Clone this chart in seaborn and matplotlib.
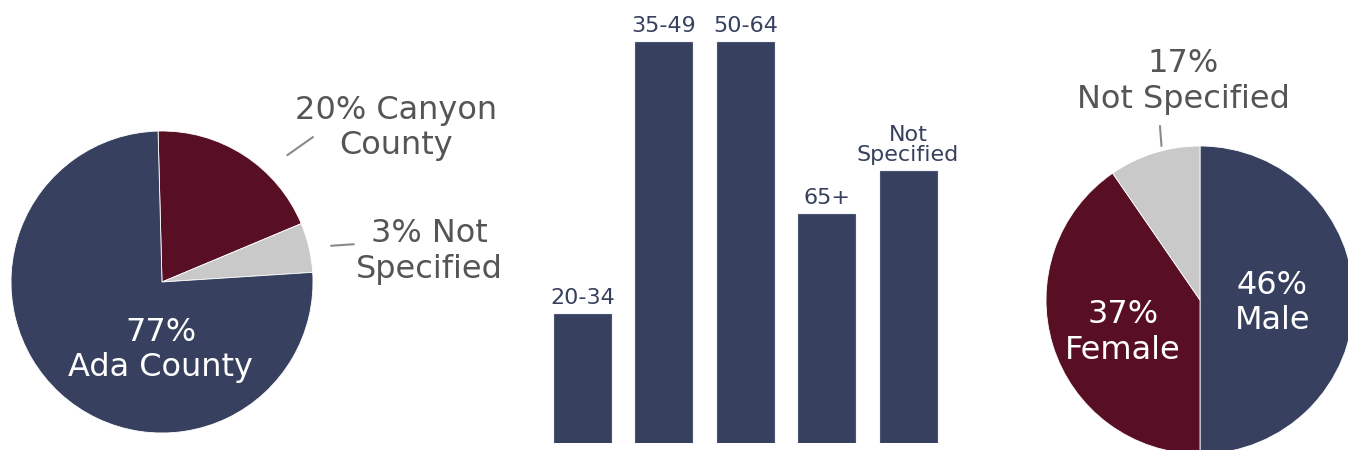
import matplotlib
matplotlib.use("Agg")
import matplotlib.pyplot as plt
import seaborn as sns
import pandas as pd

# --- data -------------------------------------------------------------
county_labels = ["20% Canyon\nCounty", "3% Not\nSpecified", "77%\nAda County"]
county_shares = [19.1, 5.3, 75.6]          # slice sizes as drawn

age_groups = ["20-34", "35-49", "50-64", "65+", "Not\nSpecified"]
age_shares = [9, 28, 28, 16, 19]

gender_labels = ["46%\nMale", "37%\nFemale", "17%\nNot Specified"]
gender_shares = [50, 40.4, 9.6]            # slice sizes as drawn

NAVY = "#37415F"
MAROON = "#580F24"
GRAY = "#C9C9C9"
TEXT_GRAY = "#555555"
PIE_FONT = dict(fontsize=23, family=["DejaVu Sans"], linespacing=1.2)

sns.set_theme(style="white")
plt.rcParams['font.family'] = ['DejaVu Sans']

W, H = 1348, 450
fig = plt.figure(figsize=(W / 100, H / 100), dpi=100)


def pie_axes(cx, cy, r):
    """square axes centred on pixel (cx, cy) with radius r"""
    ax = fig.add_axes([(cx - r) / W, (H - cy - r) / H, 2 * r / W, 2 * r / H])
    ax.set_xlim(-1, 1)
    ax.set_ylim(-1, 1)
    ax.set_axis_off()
    return ax


# 1. County pie
ax1 = pie_axes(162, 282, 151)
ax1.pie(county_shares, colors=[MAROON, GRAY, NAVY], startangle=91.5,
        counterclock=False, radius=1, frame=False,
        wedgeprops=dict(linewidth=0.6, edgecolor="white"))
ax1.set_xlim(-1, 1)
ax1.set_ylim(-1, 1)
ax1.text(1.55, 1.02, county_labels[0], ha="center", va="center",
         color=TEXT_GRAY, clip_on=False, **PIE_FONT)
ax1.text(1.77, 0.20, county_labels[1], ha="center", va="center",
         color=TEXT_GRAY, clip_on=False, **PIE_FONT)
ax1.text(-0.01, -0.45, county_labels[2], ha="center", va="center",
         color="white", **PIE_FONT)
ax1.plot([0.83, 1.0], [0.84, 0.96], color="#8a8a8a", lw=1.5, clip_on=False)
ax1.plot([1.12, 1.27], [0.24, 0.25], color="#8a8a8a", lw=1.5, clip_on=False)

# 2. Age bars
ax2 = fig.add_axes([541.8 / W, 7 / H, 407 / W, 430 / H])
df_age = pd.DataFrame({"age": age_groups, "share": age_shares})
sns.barplot(data=df_age, x="age", y="share", color=NAVY, saturation=1,
            width=0.7, edgecolor="#4a5573", linewidth=0.8, ax=ax2)
ax2.set_xlim(-0.5, 4.5)
ax2.set_ylim(0, 30)
ax2.set_axis_off()
for i, (lab, val) in enumerate(zip(age_groups, age_shares)):
    ax2.annotate(lab, (i, val), xytext=(0, 4), textcoords="offset points",
                 ha="center", va="bottom", fontsize=16, color=NAVY,
                 family="DejaVu Sans", linespacing=1.0)

# 3. Gender pie
ax3 = pie_axes(1200, 300, 154)
ax3.pie(gender_shares, colors=[NAVY, MAROON, GRAY], startangle=90,
        counterclock=False, radius=1, frame=False,
        wedgeprops=dict(linewidth=0.6, edgecolor="white"))
ax3.set_xlim(-1, 1)
ax3.set_ylim(-1, 1)
ax3.text(0.47, -0.02, gender_labels[0], ha="center", va="center",
         color="white", **PIE_FONT)
ax3.text(-0.50, -0.21, gender_labels[1], ha="center", va="center",
         color="white", **PIE_FONT)
ax3.text(-0.11, 1.42, gender_labels[2], ha="center", va="center",
         color=TEXT_GRAY, clip_on=False, **PIE_FONT)
ax3.plot([-0.26, -0.25], [1.13, 1.0], color="#8a8a8a", lw=1.5, clip_on=False)

fig.savefig("out.png", dpi=100, facecolor="white")
